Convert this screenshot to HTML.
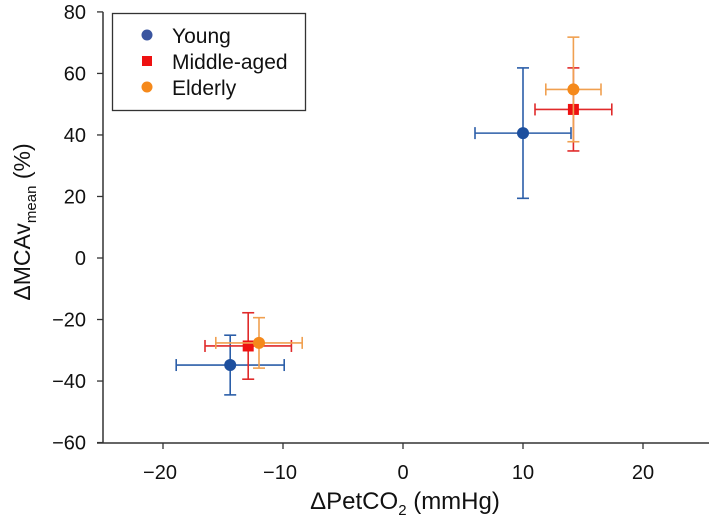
<!DOCTYPE html>
<html><head><meta charset="utf-8"><style>
html,body{margin:0;padding:0;background:#fff;}
svg{display:block;font-family:"Liberation Sans",sans-serif;}
</style></head><body>
<svg id="chart" width="709" height="529" viewBox="0 0 709 529" xmlns="http://www.w3.org/2000/svg">
<g id="axes"></g>
<g id="marks"></g>
<g>
<rect x="112.5" y="13.5" width="193" height="97" fill="#fff" stroke="#333" stroke-width="1.3"/>
<circle cx="147" cy="35" r="5.5" fill="#3a55a0"/>
<text x="172" y="43" font-size="21" fill="#111">Young</text>
<rect x="142" y="56" width="10" height="10" fill="#ee1111"/>
<text x="172" y="69" font-size="21" fill="#111">Middle-aged</text>
<circle cx="147" cy="87" r="5.5" fill="#f5891b"/>
<text x="172" y="95" font-size="21" fill="#111">Elderly</text>
</g>
<text transform="translate(30,222) rotate(-90)" text-anchor="middle" font-size="23" fill="#111">ΔMCAv<tspan font-size="15" dy="6">mean</tspan><tspan dy="-6"> (%)</tspan></text>
<text x="405" y="509" text-anchor="middle" font-size="24" fill="#111">ΔPetCO<tspan font-size="15" dy="6">2</tspan><tspan dy="-6"> (mmHg)</tspan></text>
</svg>
<script>
const xTicks=[-20,-10,0,10,20];
const yTicks=[-60,-40,-20,0,20,40,60,80];
const groups=["Young","Middle-aged","Elderly"];
const colors=["#1d4f9e","#ee1111","#f5891b"];
const errColors=["#2b5ea8","#e02a2a","#f0a050"];
const shapes=["circle","square","circle"];
const xLow=[-14.4,-12.9,-12.0];
const yLow=[-34.8,-28.6,-27.6];
const xLowErr=[4.5,3.6,3.6];
const yLowErr=[9.7,10.8,8.2];
const xHigh=[10.0,14.2,14.2];
const yHigh=[40.6,48.3,54.8];
const xHighErr=[4.0,3.2,2.3];
const yHighErr=[21.2,13.5,17.0];
const NS="http://www.w3.org/2000/svg";
const X=v=>403+(v)*12.0;
const Y=v=>258-(v)*3.076;
function mk(tag,attrs,parent){const e=document.createElementNS(NS,tag);for(const k in attrs)e.setAttribute(k,attrs[k]);parent.appendChild(e);return e;}
const axes=document.getElementById('axes');
let l=mk('line',{x1:103,y1:Y(80),x2:103,y2:443,stroke:'#333','stroke-width':1.5},axes);


l=mk('line',{x1:97,y1:443,x2:709,y2:443,stroke:'#333','stroke-width':1.5},axes);


yTicks.forEach(v=>{
 const t=mk('line',{x1:97,x2:103,y1:Y(v),y2:Y(v),stroke:'#333','stroke-width':1.3},axes);
 
 
 const tx=mk('text',{x:86,y:Y(v)+7,'text-anchor':'end','font-size':20,fill:'#111'},axes);
 tx.textContent=(v<0?'\u2212'+(-v):String(v));
 
 
});
xTicks.forEach(v=>{
 const t=mk('line',{x1:X(v),x2:X(v),y1:443,y2:449,stroke:'#333','stroke-width':1.3},axes);
 
 
 const tx=mk('text',{x:X(v)-(v<0?3:0),y:479,'text-anchor':'middle','font-size':20,fill:'#111'},axes);
 tx.textContent=(v<0?'\u2212'+(-v):String(v));
 
 
});
const marks=document.getElementById('marks');
function point(i,x,y,ex,ey,label){
 const g=mk('g',{},marks);
 
 
 const c=errColors[i],sw=1.6,cap=6;
 mk('line',{x1:X(x-ex),x2:X(x+ex),y1:Y(y),y2:Y(y),stroke:c,'stroke-width':sw},g);
 mk('line',{x1:X(x),x2:X(x),y1:Y(y-ey),y2:Y(y+ey),stroke:c,'stroke-width':sw},g);
 [x-ex,x+ex].forEach(v=>mk('line',{x1:X(v),x2:X(v),y1:Y(y)-cap,y2:Y(y)+cap,stroke:c,'stroke-width':sw},g));
 [y-ey,y+ey].forEach(v=>mk('line',{x1:X(x)-cap,x2:X(x)+cap,y1:Y(v),y2:Y(v),stroke:c,'stroke-width':sw},g));
 if(shapes[i]==='circle')mk('circle',{cx:X(x),cy:Y(y),r:6,fill:colors[i]},g);
 else mk('rect',{x:X(x)-5.5,y:Y(y)-5.5,width:11,height:11,fill:colors[i]},g);
}
groups.forEach((gname,i)=>{
 const key=gname.toLowerCase();
 point(i,xLow[i],yLow[i],xLowErr[i],yLowErr[i],key+'-hypocapnia');
 point(i,xHigh[i],yHigh[i],xHighErr[i],yHighErr[i],key+'-hypercapnia');
});
</script>
</body></html>
